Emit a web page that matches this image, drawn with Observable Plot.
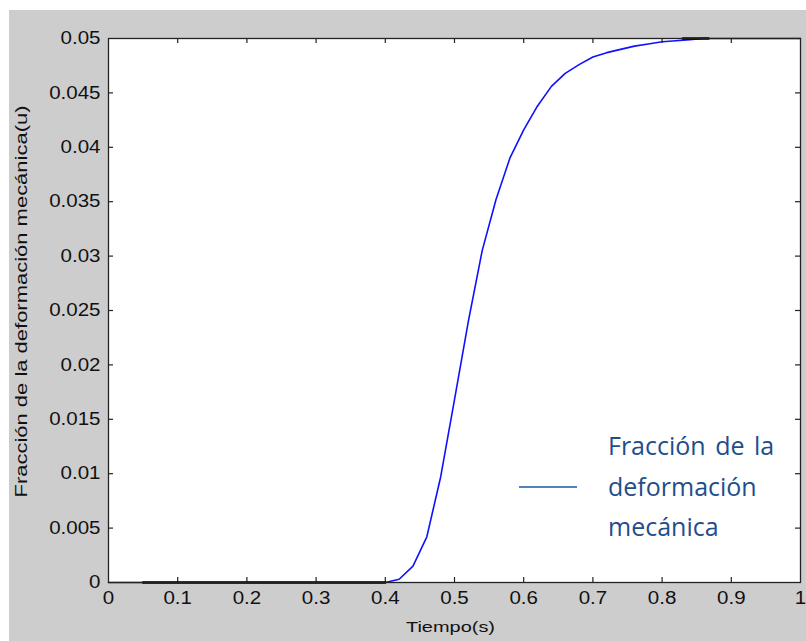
<!DOCTYPE html>
<html><head><meta charset="utf-8">
<script src="https://cdn.jsdelivr.net/npm/d3@7"></script>
<script src="https://cdn.jsdelivr.net/npm/@observablehq/plot@0.6"></script>
<style>
html,body{margin:0;padding:0;background:#fff;width:806px;height:641px;overflow:hidden}
#fig{position:absolute;left:9px;top:10px;width:797px;height:631px;background:#cdcdcd;overflow:hidden}
#fig svg{position:absolute;left:0;top:0}
#legend{position:absolute;left:501px;top:410px;width:220px;height:140px}
#legend .sample{position:absolute;left:9px;top:66px;width:58px;height:0;border-top:2px solid #4f81bd}
#legend .txt{position:absolute;left:98px;top:5px;font-family:"Open Sans",sans-serif;font-size:25px;line-height:40.5px;word-spacing:3px;color:#1f4e8c;white-space:nowrap}
</style></head><body>
<div id="fig"></div>
<script>
// Blue curve (time in s, mechanical deformation fraction)
const tiempo   = [0, 0.05, 0.40, 0.42, 0.44, 0.46, 0.48, 0.50, 0.52, 0.54, 0.56, 0.58, 0.60, 0.62, 0.64, 0.66, 0.68, 0.70, 0.72, 0.74, 0.76, 0.78, 0.80, 0.82, 0.84, 0.86, 1.00];
const fraccion = [0, 0, 0, 0.0003, 0.0015, 0.0042, 0.0097, 0.0168, 0.0240, 0.0305, 0.0352, 0.0390, 0.0416, 0.0438, 0.0456, 0.0468, 0.0476, 0.0483, 0.0487, 0.0490, 0.0493, 0.0495, 0.0497, 0.0498, 0.0499, 0.0500, 0.0500];
// Dark overlay segments
const negroT = [0.05, 0.40, 0.83, 0.867];
const negroU = [0, 0, 0.05, 0.05];
const negroS = ["a", "a", "b", "b"];
// Ticks and labels
const xTicks = [0, 0.1, 0.2, 0.3, 0.4, 0.5, 0.6, 0.7, 0.8, 0.9, 1];
const yTicks = [0, 0.005, 0.01, 0.015, 0.02, 0.025, 0.03, 0.035, 0.04, 0.045, 0.05];
const xLabel = "Tiempo(s)";
const yLabel = "Fracción de la deformación mecánica(u)";
const legendLines = ["Fracción de la", "deformación", "mecánica"];

const curve = tiempo.map((t, i) => ({t, u: fraccion[i]}));
const negro = negroT.map((t, i) => ({t, u: negroU[i], s: negroS[i]}));

const W = 797, H = 631, mL = 99, mT = 28, mR = 6, mB = 59;
const ph = H - mT - mB, pw = W - mL - mR;
const fmt = d => String(+d.toFixed(4));
const inner = (a) => a.filter((d, i) => i > 0 && i < a.length - 1);

const chart = Plot.plot({
  width: W, height: H,
  marginLeft: mL, marginTop: mT, marginRight: mR, marginBottom: mB,
  style: {background: "transparent", fontFamily: "'Liberation Sans', Arial, sans-serif", fontSize: "18px", color: "#000"},
  x: {domain: [0, 1]},
  y: {domain: [0, 0.05]},
  marks: [
    Plot.frame({fill: "white", stroke: null}),
    Plot.ruleX(inner(xTicks), {stroke: "#222", strokeWidth: 1.2, insetTop: ph - 5}),
    Plot.ruleX(inner(xTicks), {stroke: "#222", strokeWidth: 1.2, insetBottom: ph - 5}),
    Plot.ruleY(inner(yTicks), {stroke: "#222", strokeWidth: 1.2, insetRight: pw - 5}),
    Plot.ruleY(inner(yTicks), {stroke: "#222", strokeWidth: 1.2, insetLeft: pw - 5}),
    Plot.line(curve, {x: "t", y: "u", stroke: "#1010ff", strokeWidth: 1.6}),
    Plot.line(negro, {x: "t", y: "u", z: "s", stroke: "#000", strokeWidth: 2.5}),
    Plot.frame({stroke: "#222", strokeWidth: 1.3}),
    Plot.axisX(xTicks, {tickSize: 0, tickPadding: 9, tickFormat: fmt, label: null, fill: "#111"}),
    Plot.axisY(yTicks, {tickSize: 0, tickPadding: 8, tickFormat: fmt, label: null, fill: "#111"}),
    Plot.text([xLabel], {frameAnchor: "bottom", dx: -4, dy: 49, fontSize: 15, fill: "#111"}),
    Plot.text([yLabel], {frameAnchor: "left", textAnchor: "middle", lineAnchor: "middle", rotate: -90, dx: -87, dy: -9, fontSize: 16, fill: "#111"})
  ]
});
const fig = document.getElementById("fig");
fig.appendChild(chart);

// horizontal glyph stretch to match the reference's wide text rendering
const stretch = (el, f, len) => {
  const L = len ?? el.getComputedTextLength() * f;
  el.setAttribute("textLength", L);
  el.setAttribute("lengthAdjust", "spacingAndGlyphs");
};
chart.querySelectorAll('[aria-label="x-axis tick label"] text, [aria-label="y-axis tick label"] text')
  .forEach(el => stretch(el, 1.14));
chart.querySelectorAll("text").forEach(el => {
  if (el.textContent === yLabel) stretch(el, 1, 392);
  if (el.textContent === xLabel) stretch(el, 1, 89);
});

const leg = document.createElement("div");
leg.id = "legend";
leg.innerHTML = `<div class="sample"></div><div class="txt">${legendLines.join("<br>")}</div>`;
fig.appendChild(leg);
</script>
</body></html>
